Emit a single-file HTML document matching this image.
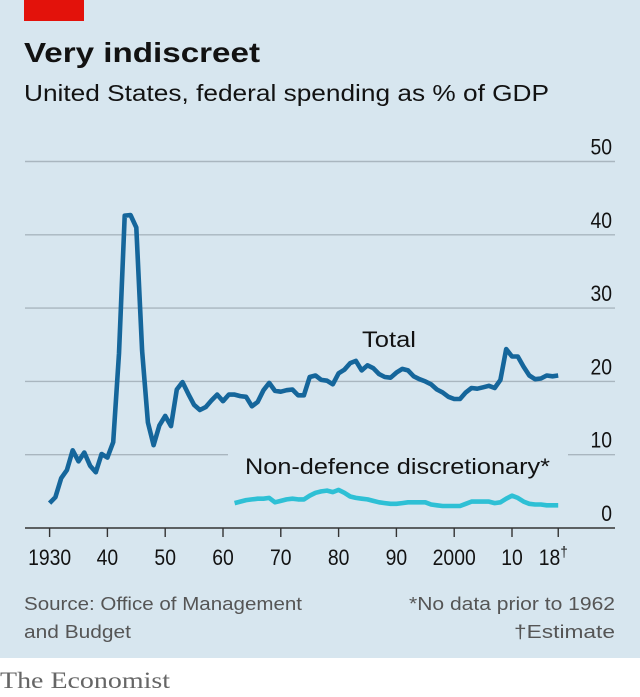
<!DOCTYPE html>
<html><head><meta charset="utf-8"><style>
html,body{margin:0;padding:0;background:#fff}
svg{display:block}
text{font-family:"Liberation Sans",sans-serif}
</style></head><body>
<svg id="chart" width="640" height="697" viewBox="0 0 640 697">
<rect x="0" y="0" width="640" height="658" fill="#d7e6ef"/>
<rect x="24" y="0" width="60" height="21" fill="#e3120b"/>
<text x="24" y="62" font-size="28" font-weight="bold" fill="#121212" textLength="236" lengthAdjust="spacingAndGlyphs">Very indiscreet</text>
<text x="24" y="101" font-size="23" fill="#121212" textLength="525" lengthAdjust="spacingAndGlyphs">United States, federal spending as % of GDP</text>
<g id="grid"></g>
<g id="xaxis"></g>
<g id="series"></g>
<text x="362" y="347" font-size="22" fill="#121212" textLength="54" lengthAdjust="spacingAndGlyphs">Total</text>
<text x="245" y="474" font-size="22" fill="#121212" textLength="305" lengthAdjust="spacingAndGlyphs">Non-defence discretionary*</text>
<text x="24" y="610" font-size="18" fill="#555" textLength="278" lengthAdjust="spacingAndGlyphs">Source: Office of Management</text>
<text x="24" y="638" font-size="18" fill="#555" textLength="107" lengthAdjust="spacingAndGlyphs">and Budget</text>
<text x="615" y="610" font-size="18" fill="#555" text-anchor="end" textLength="206" lengthAdjust="spacingAndGlyphs">*No data prior to 1962</text>
<text x="615" y="638" font-size="18" fill="#555" text-anchor="end" textLength="101" lengthAdjust="spacingAndGlyphs">†Estimate</text>
<text x="0" y="688" font-size="23" fill="#666" style="font-family:'Liberation Serif',serif" textLength="170" lengthAdjust="spacingAndGlyphs">The Economist</text>
</svg>
<script>
const yTicks=[0,10,20,30,40,50];
const xTickYears=[1930,1940,1950,1960,1970,1980,1990,2000,2010,2018];
const xTickLabels=["1930","40","50","60","70","80","90","2000","10","18†"];
const totalStart=1930;
const totalValues=[3.4,4.2,6.8,7.9,10.6,9.1,10.3,8.5,7.6,10.1,9.6,11.7,23.8,42.6,42.7,41.0,24.2,14.4,11.3,14.0,15.3,13.9,18.9,19.9,18.3,16.8,16.1,16.5,17.4,18.2,17.3,18.2,18.2,18.0,17.9,16.6,17.2,18.8,19.8,18.7,18.6,18.8,18.9,18.1,18.1,20.6,20.8,20.2,20.1,19.6,21.1,21.6,22.5,22.8,21.5,22.2,21.8,21.0,20.6,20.5,21.2,21.7,21.5,20.7,20.3,20.0,19.6,18.9,18.5,17.9,17.6,17.6,18.5,19.1,19.0,19.2,19.4,19.1,20.2,24.4,23.4,23.4,22.0,20.8,20.3,20.4,20.8,20.7,20.8];
const ndStart=1962;
const ndValues=[3.4,3.6,3.8,3.9,4.0,4.0,4.1,3.5,3.7,3.9,4.0,3.9,3.9,4.4,4.8,5.0,5.1,4.9,5.2,4.8,4.3,4.1,4.0,3.9,3.7,3.5,3.4,3.3,3.3,3.4,3.5,3.5,3.5,3.5,3.2,3.1,3.0,3.0,3.0,3.0,3.3,3.6,3.6,3.6,3.6,3.4,3.5,4.0,4.4,4.1,3.6,3.3,3.2,3.2,3.1,3.1,3.1];

const NS="http://www.w3.org/2000/svg";
function xs(yr){return 49.6+(yr-1930)*5.78;}
function ys(v){return 528-v*7.33;}
function mk(tag,attrs,parent){const e=document.createElementNS(NS,tag);for(const k in attrs)e.setAttribute(k,attrs[k]);parent.appendChild(e);return e;}

const grid=document.getElementById('grid');
yTicks.forEach(function(t){
  if(t>0){
    const l=mk('line',{x1:25,x2:615,y1:ys(t),y2:ys(t),stroke:'#a9b6bf','stroke-width':1.4},grid);
    
    
  }
  const tx=mk('text',{x:612,y:ys(t)-7,'font-size':22,fill:'#121212','text-anchor':'end',transform:'translate('+(612*0.12)+',0) scale(0.88,1)'},grid);
  tx.textContent=String(t);
  
  
});
const mask=mk('rect',{x:228,y:ys(10)-3,width:340,height:6,fill:'#d7e6ef'},grid);



const xa=document.getElementById('xaxis');
const base=mk('line',{x1:25,x2:615,y1:ys(0),y2:ys(0),stroke:'#333','stroke-width':1.6},xa);


xTickYears.forEach(function(yr,i){
  const tk=mk('line',{x1:xs(yr),x2:xs(yr),y1:ys(0),y2:ys(0)+9,stroke:'#333','stroke-width':1.4},xa);
  
  
  const lab=xTickLabels[i];
  let cx=xs(yr);
  const tx=mk('text',{y:565,'font-size':22,fill:'#121212','text-anchor':'middle'},xa);
  if(lab.indexOf('†')>=0){
    cx=xs(yr)-5;
    tx.textContent='18';
    const sp=mk('tspan',{'font-size':15,dy:-8},tx);
    sp.textContent='†';
  } else tx.textContent=lab;
  tx.setAttribute('x',cx);
  tx.setAttribute('transform','translate('+(cx*0.12)+',0) scale(0.88,1)');
  
  
});

const sg=document.getElementById('series');
function pts(start,vals){return vals.map(function(v,i){return xs(start+i).toFixed(1)+','+ys(v).toFixed(1);}).join(' ');}
const nd=mk('polyline',{points:pts(ndStart,ndValues),fill:'none',stroke:'#2ec0d5','stroke-width':4.6,'stroke-linejoin':'round','stroke-linecap':'butt'},sg);


const tl=mk('polyline',{points:pts(totalStart,totalValues),fill:'none',stroke:'#15669b','stroke-width':4.6,'stroke-linejoin':'round','stroke-linecap':'butt'},sg);


</script>
</body></html>
